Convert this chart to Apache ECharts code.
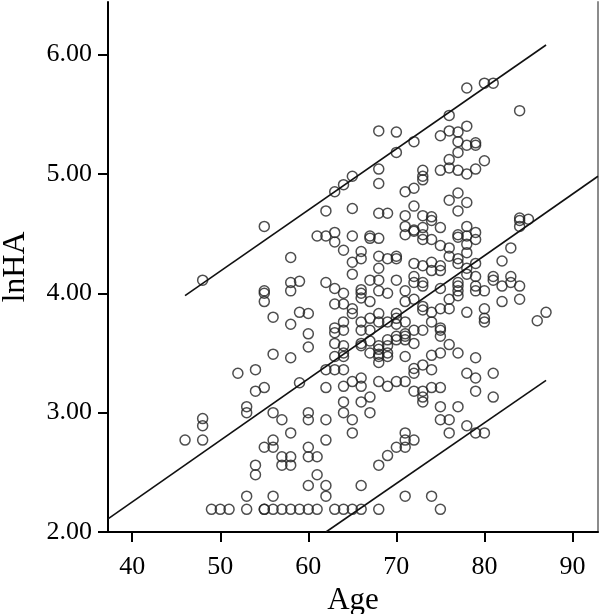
<!DOCTYPE html>
<html>
<head>
<meta charset="utf-8">
<script src="https://cdn.jsdelivr.net/npm/echarts@6/dist/echarts.min.js"></script>
<style>
html,body{margin:0;padding:0;background:#fff;}
#chart{width:600px;height:614px;}
</style>
</head>
<body>
<div id="chart"></div>
<script>
// Tick labels
const xTicks = [40, 50, 60, 70, 80, 90];
const yTicks = [2, 3, 4, 5, 6];

// Observed data: [Age, lnHA]
const points = [
[46,2.77],
[48,4.11],[48,2.95],[48,2.89],[48,2.77],
[49,2.19],[50,2.19],[51,2.19],
[52,3.33],
[53,3.05],[53,3.00],[53,2.30],[53,2.19],
[54,3.36],[54,3.18],[54,2.56],[54,2.48],
[55,4.56],[55,4.02],[55,4.00],[55,3.93],[55,3.21],[55,2.71],[55,2.19],[55,2.19],
[56,3.80],[56,3.49],[56,3.00],[56,2.77],[56,2.71],[56,2.30],[56,2.19],
[57,2.94],[57,2.63],[57,2.56],[57,2.19],
[58,4.30],[58,4.09],[58,4.02],[58,3.74],[58,3.46],[58,2.83],[58,2.63],[58,2.56],[58,2.19],
[59,4.10],[59,3.84],[59,3.25],[59,2.19],
[60,3.83],[60,3.66],[60,3.55],[60,3.00],[60,2.94],[60,2.71],[60,2.63],[60,2.39],[60,2.19],
[61,4.48],[61,2.63],[61,2.48],[61,2.19],
[62,4.69],[62,4.48],[62,4.09],[62,3.36],[62,3.21],[62,2.94],[62,2.77],[62,2.39],[62,2.30],
[63,4.85],[63,4.51],[63,4.43],[63,4.04],[63,3.91],[63,3.71],[63,3.67],[63,3.58],[63,3.47],[63,3.36],[63,2.19],
[64,4.91],[64,4.36],[64,4.00],[64,3.91],[64,3.76],[64,3.69],[64,3.56],[64,3.50],[64,3.47],[64,3.36],[64,3.22],[64,3.09],[64,3.00],[64,2.19],
[65,4.98],[65,4.71],[65,4.48],[65,4.26],[65,4.16],[65,3.87],[65,3.83],[65,3.26],[65,2.94],[65,2.83],[65,2.19],
[66,4.35],[66,4.29],[66,4.03],[66,4.00],[66,3.96],[66,3.76],[66,3.69],[66,3.58],[66,3.56],[66,3.29],[66,3.22],[66,3.09],[66,2.39],[66,2.19],
[67,4.48],[67,4.46],[67,4.11],[67,3.93],[67,3.79],[67,3.69],[67,3.60],[67,3.50],[67,3.13],[67,3.00],
[68,5.36],[68,5.04],[68,4.92],[68,4.67],[68,4.46],[68,4.31],[68,4.21],[68,4.11],[68,4.02],[68,3.83],[68,3.76],[68,3.56],[68,3.53],[68,3.49],[68,3.47],[68,3.42],[68,3.26],[68,2.56],[68,2.19],
[69,4.67],[69,4.29],[69,4.00],[69,3.76],[69,3.61],[69,3.56],[69,3.50],[69,3.47],[69,3.22],[69,2.64],
[70,5.35],[70,5.18],[70,4.31],[70,4.29],[70,4.11],[70,3.83],[70,3.79],[70,3.74],[70,3.64],[70,3.61],[70,3.26],[70,2.71],
[71,4.85],[71,4.65],[71,4.56],[71,4.49],[71,4.02],[71,3.93],[71,3.76],[71,3.66],[71,3.64],[71,3.61],[71,3.47],[71,3.26],[71,2.83],[71,2.77],[71,2.71],[71,2.30],
[72,5.27],[72,4.88],[72,4.73],[72,4.53],[72,4.52],[72,4.25],[72,4.14],[72,4.09],[72,3.95],[72,3.69],[72,3.58],[72,3.37],[72,3.33],[72,3.18],[72,2.77],
[73,5.03],[73,4.98],[73,4.95],[73,4.65],[73,4.55],[73,4.49],[73,4.45],[73,4.23],[73,4.09],[73,4.06],[73,3.89],[73,3.86],[73,3.69],[73,3.40],[73,3.18],[73,3.13],[73,3.09],
[74,4.64],[74,4.61],[74,4.45],[74,4.26],[74,4.19],[74,3.84],[74,3.76],[74,3.48],[74,3.36],[74,3.21],[74,2.30],
[75,5.32],[75,5.03],[75,4.55],[75,4.40],[75,4.23],[75,4.19],[75,4.04],[75,3.87],[75,3.71],[75,3.69],[75,3.64],[75,3.50],[75,3.21],[75,3.05],[75,2.94],[75,2.19],
[76,5.49],[76,5.36],[76,5.12],[76,5.05],[76,4.78],[76,4.38],[76,4.31],[76,3.95],[76,3.87],[76,3.57],[76,2.94],[76,2.83],
[77,5.35],[77,5.27],[77,5.18],[77,5.03],[77,4.84],[77,4.69],[77,4.49],[77,4.47],[77,4.29],[77,4.25],[77,4.09],[77,4.06],[77,4.02],[77,3.98],[77,3.50],[77,3.05],
[78,5.72],[78,5.40],[78,5.24],[78,5.00],[78,4.76],[78,4.56],[78,4.48],[78,4.41],[78,4.34],[78,4.21],[78,4.16],[78,3.84],[78,3.33],[78,2.89],
[79,5.26],[79,5.24],[79,5.04],[79,4.51],[79,4.45],[79,4.25],[79,4.14],[79,4.06],[79,4.02],[79,3.46],[79,3.29],[79,3.18],[79,2.83],
[80,5.76],[80,5.11],[80,4.02],[80,3.87],[80,3.79],[80,3.76],[80,2.83],
[81,5.76],[81,4.14],[81,4.11],[81,3.33],[81,3.13],
[82,4.27],[82,4.06],[82,3.93],
[83,4.38],[83,4.14],[83,4.09],
[84,5.53],[84,4.63],[84,4.61],[84,4.56],[84,4.06],[84,3.95],
[85,4.62],
[86,3.77],
[87,3.84]
];

// Fitted line and prediction bounds (end points)
const fitLine = [[37.25, 2.11], [92.9, 4.98]];
const upperBound = [[46, 3.98], [87, 6.08]];
const lowerBound = [[62.0, 2.00], [87, 3.27]];

const font = 'Liberation Serif, Times New Roman, serif';
const chart = echarts.init(document.getElementById('chart'), null, {renderer: 'canvas'});

const lineSeries = (data) => ({
  type: 'line', data: data, symbol: 'none', silent: true, clip: true,
  lineStyle: {color: '#111', width: 1.6}, z: 3
});

chart.setOption({
  animation: false,
  backgroundColor: '#fff',
  grid: {left: 108, right: 2, top: 2, bottom: 82, containLabel: false, outerBoundsMode: 'none'},
  xAxis: {
    type: 'value', min: 37.25, max: 92.9,
    name: 'Age', nameLocation: 'middle', nameGap: 46,
    nameTextStyle: {fontFamily: font, fontSize: 31, color: '#000'},
    axisLine: {show: true, lineStyle: {color: '#000', width: 2}},
    axisTick: {show: true, length: 10, lineStyle: {color: '#000', width: 2}, customValues: xTicks},
    axisLabel: {customValues: xTicks, fontFamily: font, fontSize: 26, color: '#000', margin: 22},
    splitLine: {show: false}
  },
  yAxis: [{
    type: 'value', min: 2, max: 6.44,
    name: 'lnHA', nameLocation: 'middle', nameGap: 76, nameRotate: 90,
    nameTextStyle: {fontFamily: font, fontSize: 32, color: '#000'},
    axisLine: {show: true, lineStyle: {color: '#000', width: 2}},
    axisTick: {show: true, length: 10, lineStyle: {color: '#000', width: 2}, customValues: yTicks},
    axisLabel: {customValues: yTicks, fontFamily: font, fontSize: 26, color: '#000', margin: 16,
      formatter: v => Number(v).toFixed(2)},
    splitLine: {show: false}
  }, {
    type: 'value', min: 2, max: 6.44, position: 'right',
    axisLine: {show: true, onZero: false, lineStyle: {color: '#8c8c8c', width: 2}},
    axisTick: {show: false}, axisLabel: {show: false}, splitLine: {show: false}
  }],
  series: [
    {
      type: 'scatter', data: points, symbol: 'circle', symbolSize: 10, silent: true,
      itemStyle: {color: 'rgba(0,0,0,0)', borderColor: '#222', borderWidth: 1.5},
      z: 2
    },
    lineSeries(fitLine),
    lineSeries(upperBound),
    lineSeries(lowerBound)
  ]
});
</script>
</body>
</html>
